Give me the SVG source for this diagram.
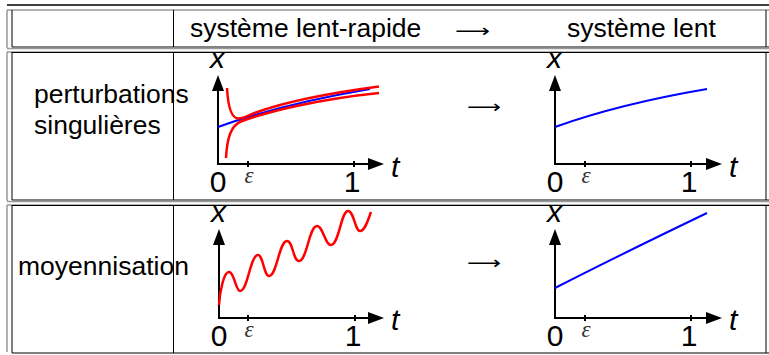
<svg xmlns="http://www.w3.org/2000/svg" width="769" height="355" viewBox="0 0 769 355">
<style>
.txt{font-family:"Liberation Sans",Arial,sans-serif;font-size:26.5px;fill:#000}
.ax{stroke:#000;stroke-width:2;fill:none}
.tick{stroke:#000;stroke-width:2}
.lab{font-family:"Liberation Sans",Arial,sans-serif;font-style:italic;font-size:30px;fill:#000}
.num{font-family:"Liberation Sans",Arial,sans-serif;font-size:30px;fill:#000;text-anchor:middle}
.eps{font-family:"Liberation Serif","Times New Roman",serif;font-style:italic;font-size:23px;fill:#333;text-anchor:middle}
.arr{font-family:"DejaVu Sans",sans-serif;font-size:18px;fill:#000}
.blue{stroke:#0000ff;stroke-width:2;fill:none}
.red{stroke:#ff0000;stroke-width:2.5;fill:none}
.g{stroke:#999;stroke-width:1.5;fill:none}
.k{stroke:#000;stroke-width:1;fill:none}
</style>
<defs>
<marker id="ah" markerUnits="userSpaceOnUse" markerWidth="16" markerHeight="12" refX="6" refY="6" orient="auto">
<path d="M0,0 L16,6 L0,12 z" fill="#000"/>
</marker>
</defs>
<rect width="769" height="355" fill="#fff"/>

<g id="table">
<line class="k" x1="7" y1="5" x2="769" y2="5" style="stroke-width:1.5"/>
<line class="g" x1="7" y1="10" x2="769" y2="10"/>
<line class="g" x1="7" y1="10" x2="7" y2="48"/>
<line class="k" x1="12" y1="10" x2="12" y2="47"/>
<line class="k" x1="173.5" y1="10" x2="173.5" y2="47"/>
<line class="k" x1="766" y1="10" x2="766" y2="47"/>
<line class="k" x1="12" y1="47" x2="769" y2="47"/>
<line class="g" x1="7" y1="48.5" x2="769" y2="48.5"/>
<line class="g" x1="7" y1="52" x2="769" y2="52"/>
<line class="k" x1="12" y1="52.5" x2="769" y2="52.5"/>
<line class="g" x1="7" y1="52" x2="7" y2="201"/>
<line class="k" x1="12" y1="52" x2="12" y2="200"/>
<line class="k" x1="173.5" y1="52" x2="173.5" y2="200"/>
<line class="k" x1="766" y1="52" x2="766" y2="200"/>
<line class="k" x1="12" y1="200" x2="769" y2="200"/>
<line class="g" x1="7" y1="201.5" x2="769" y2="201.5"/>
<line class="g" x1="7" y1="205" x2="769" y2="205"/>
<line class="k" x1="12" y1="205.5" x2="769" y2="205.5"/>
<line class="g" x1="7" y1="205" x2="7" y2="352"/>
<line class="k" x1="12" y1="205" x2="12" y2="353"/>
<line class="k" x1="173.5" y1="205" x2="173.5" y2="353"/>
<line class="k" x1="766" y1="205" x2="766" y2="353"/>
<line class="k" x1="12" y1="353" x2="769" y2="353"/>
</g>

<g id="header">
<text class="txt" x="190" y="37">système lent-rapide</text>
<text class="arr" x="455" y="37" textLength="35" lengthAdjust="spacingAndGlyphs">⟶</text>
<text class="txt" x="567" y="37">système lent</text>
</g>

<g id="row1-label">
<text class="txt" x="34" y="103">perturbations</text>
<text class="txt" x="34" y="134">singulières</text>
</g>
<g id="row2-label">
<text class="txt" x="18" y="275">moyennisation</text>
</g>

<g id="connectors">
<text class="arr" x="467" y="113" textLength="34" lengthAdjust="spacingAndGlyphs">⟶</text>
<text class="arr" x="467" y="269" textLength="34" lengthAdjust="spacingAndGlyphs">⟶</text>
</g>

<g id="plot1">
<line class="ax" x1="218" y1="164" x2="218" y2="85" marker-end="url(#ah)"/>
<line class="ax" x1="217" y1="164" x2="374" y2="164" marker-end="url(#ah)"/>
<line class="tick" x1="248" y1="161" x2="248" y2="167"/>
<line class="tick" x1="354" y1="161" x2="354" y2="167"/>
<text class="lab" x="210" y="68">x</text>
<text class="lab" x="391" y="177">t</text>
<text class="num" x="218" y="192">0</text>
<text class="num" x="352" y="192">1</text>
<text class="eps" x="249" y="183">ε</text>
<path class="blue" d="M218,127 C268,109 320,97.5 370,89"/>
<path class="red" d="M227,88 C228,106 231,118 238,118.5 C243,119 249,115 256,112.5 C285,102 330,93 379,86.5"/>
<path class="red" d="M226,158 C227,138 231,125 242,121 C270,111 320,99 379,93"/>
</g>

<g id="plot2">
<line class="ax" x1="555" y1="164" x2="555" y2="85" marker-end="url(#ah)"/>
<line class="ax" x1="554" y1="164" x2="712" y2="164" marker-end="url(#ah)"/>
<line class="tick" x1="585" y1="161" x2="585" y2="167"/>
<line class="tick" x1="691" y1="161" x2="691" y2="167"/>
<text class="lab" x="547" y="68">x</text>
<text class="lab" x="729" y="177">t</text>
<text class="num" x="555" y="192">0</text>
<text class="num" x="689" y="192">1</text>
<text class="eps" x="586" y="183">ε</text>
<path class="blue" d="M555,127 C605,109 657,97.5 707,89"/>
</g>

<g id="plot3">
<line class="ax" x1="219" y1="318" x2="219" y2="239" marker-end="url(#ah)"/>
<line class="ax" x1="218" y1="318" x2="374" y2="318" marker-end="url(#ah)"/>
<line class="tick" x1="248" y1="315" x2="248" y2="321"/>
<line class="tick" x1="355" y1="315" x2="355" y2="321"/>
<text class="lab" x="211" y="222">x</text>
<text class="lab" x="391" y="330">t</text>
<text class="num" x="219" y="346">0</text>
<text class="num" x="353" y="346">1</text>
<text class="eps" x="249" y="337">ε</text>
<path class="red" d="M219,305 C220,290 224,272 229,272 C234,272 236,291 240,291 C248,291 250,255 258,255 C263,255 264,276 269,276 C277,276 279,241 287,241 C293,241 293,261 299,261 C307,261 309,226 317,226 C323,226 325,245 331,245 C339,245 341,211 348,211 C354,211 355,231 360,231 C365,231 368,220 371,212"/>
</g>

<g id="plot4">
<line class="ax" x1="555" y1="318" x2="555" y2="239" marker-end="url(#ah)"/>
<line class="ax" x1="554" y1="318" x2="712" y2="318" marker-end="url(#ah)"/>
<line class="tick" x1="585" y1="315" x2="585" y2="321"/>
<line class="tick" x1="691" y1="315" x2="691" y2="321"/>
<text class="lab" x="547" y="222">x</text>
<text class="lab" x="729" y="330">t</text>
<text class="num" x="555" y="346">0</text>
<text class="num" x="689" y="346">1</text>
<text class="eps" x="586" y="337">ε</text>
<path class="blue" d="M555,288 C600,265 655,238 707,213"/>
</g>
</svg>
